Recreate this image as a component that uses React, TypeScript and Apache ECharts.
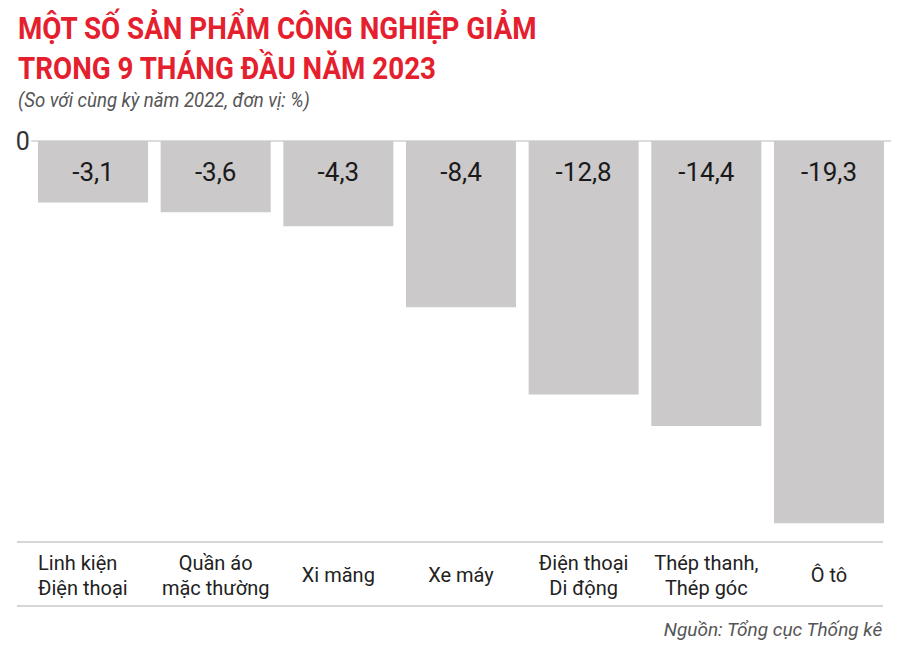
import React, { useEffect, useRef } from "react";
import * as echarts from "echarts";

const categories = [
  "Linh kiện\nĐiện thoại",
  "Quần áo\nmặc thường",
  "Xi măng",
  "Xe máy",
  "Điện thoại\nDi động",
  "Thép thanh,\nThép góc",
  "Ô tô",
];
const values = [-3.1, -3.6, -4.3, -8.4, -12.8, -14.4, -19.3];
const titleLines = ["MỘT SỐ SẢN PHẨM CÔNG NGHIỆP GIẢM", "TRONG 9 THÁNG ĐẦU NĂM 2023"];
const subtitle = "(So với cùng kỳ năm 2022, đơn vị: %)";
const source = "Nguồn: Tổng cục Thống kê";

const FONT = "Roboto, 'Noto Sans', sans-serif";

export default function App() {
  const ref = useRef<HTMLDivElement>(null);
  useEffect(() => {
    if (!ref.current) return;
    const chart = echarts.init(ref.current, null, { renderer: "svg" });
    const labelStyle = { fontFamily: FONT, fontSize: 20, lineHeight: 25, color: "#222222" };
    chart.setOption({
      animation: false,
      backgroundColor: "#ffffff",
      grid: { left: 31.7, right: 9.7, top: 141, bottom: 112 },
      xAxis: [
        {
          type: "category",
          data: categories,
          position: "bottom",
          axisLine: { show: true, onZero: true, lineStyle: { color: "#dcdcdc", width: 2 } },
          axisTick: { show: false },
          axisLabel: { show: false },
        },
        {
          type: "category",
          data: categories,
          position: "bottom",
          axisLine: { show: false, onZero: false },
          axisTick: { show: false },
          axisLabel: {
            show: true,
            interval: 0,
            margin: 38,
            verticalAlign: "middle",
            ...labelStyle,
            formatter: (v: string, i: number) =>
              i === 0
                ? v
                    .split("\n")
                    .map((s) => "{l|" + s + "}")
                    .join("\n")
                : v,
            rich: { l: { ...labelStyle, width: 110, align: "left" } },
          },
        },
      ],
      yAxis: {
        type: "value",
        min: -20,
        max: 0,
        interval: 20,
        splitLine: { show: false },
        axisLine: { show: false },
        axisTick: { show: false },
        axisLabel: {
          margin: 2,
          fontFamily: FONT,
          fontSize: 25,
          color: "#333333",
          padding: [9, 0, 0, 0],
          formatter: (v: number) => (v === 0 ? "0" : ""),
        },
      },
      series: [
        {
          type: "bar",
          xAxisIndex: 0,
          data: values,
          barCategoryGap: "10.3%",
          itemStyle: { color: "#cbc9ca" },
          label: {
            show: true,
            position: "insideTop",
            distance: 18,
            fontFamily: FONT,
            fontSize: 26,
            color: "#1a1a1a",
            formatter: (p: any) => String(p.value).replace(".", ","),
          },
        },
      ],
      graphic: [
        {
          type: "text",
          x: 18,
          y: 8,
          scaleX: 0.868,
          style: {
            text: titleLines.join("\n"),
            fontFamily: FONT,
            fontWeight: "bold",
            fontSize: 32,
            lineHeight: 40,
            fill: "#e5202e",
          },
        },
        {
          type: "text",
          x: 18,
          y: 90,
          scaleX: 0.93,
          style: {
            text: subtitle,
            fontFamily: FONT,
            fontStyle: "italic",
            fontSize: 20,
            fill: "#555555",
          },
        },
        {
          type: "line",
          shape: { x1: 17, y1: 542, x2: 883, y2: 542 },
          style: { stroke: "#d6d6d6", lineWidth: 2 },
        },
        {
          type: "line",
          shape: { x1: 17, y1: 606, x2: 883, y2: 606 },
          style: { stroke: "#d6d6d6", lineWidth: 2 },
        },
        {
          type: "text",
          right: 17,
          top: 620,
          style: {
            text: source,
            fontFamily: FONT,
            fontStyle: "italic",
            fontSize: 19,
            fill: "#555555",
          },
        },
      ],
    });
    return () => chart.dispose();
  }, []);
  return <div ref={ref} style={{ width: 900, height: 649, margin: -8 }} />;
}
